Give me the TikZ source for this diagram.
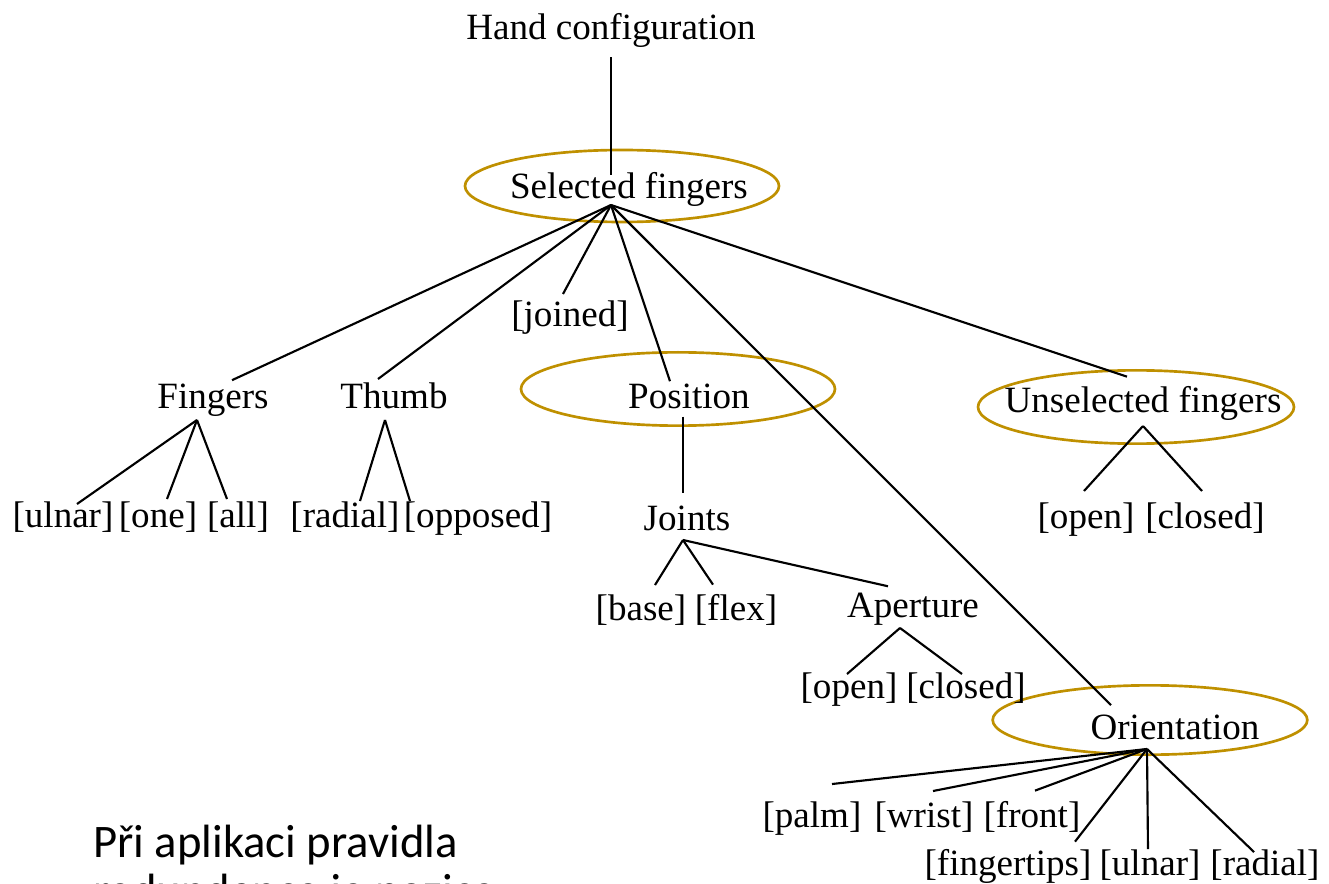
\documentclass[tikz,border=0pt]{standalone}
\usepackage{fontspec}
\setmainfont{Liberation Serif}
\newfontfamily\czfont{Carlito}
\usetikzlibrary{calc}
\definecolor{gold}{RGB}{191,144,0}
\begin{document}
\begin{tikzpicture}[x=0.75pt,y=-0.75pt,
  lbl/.style={font=\fontsize{27.8pt}{32pt}\selectfont, inner sep=0pt, anchor=base},
  cz/.style={font=\czfont\fontsize{35pt}{42pt}\selectfont, inner sep=0pt, anchor=base west},
  edge/.style={line width=1.6pt, black},
  ring/.style={draw=gold, line width=2pt}]
\useasboundingbox (0,0) rectangle (1329,884);
\clip (0,0) rectangle (1329,884);

% highlight ellipses
\draw[ring] (622,186) ellipse [x radius=117.75pt, y radius=27pt];
\draw[ring] (678,389) ellipse [x radius=117.75pt, y radius=27.5pt];
\draw[ring] (1136,407) ellipse [x radius=118.5pt, y radius=27.5pt];
\draw[ring] (1150,720) ellipse [x radius=118pt, y radius=26pt];

% nodes
\node[lbl] (hc) at (611,40) {Hand configuration};
\node[lbl] (sf) at (629,199) {Selected fingers};
\node[lbl] (jn) at (570,327) {[joined]};
\node[lbl] (fi) at (213,408) {Fingers};
\node[lbl] (th) at (394,408) {Thumb};
\node[lbl] (po) at (689,408) {Position};
\node[lbl] (uf) at (1143,412) {Unselected fingers};
\node[lbl] (ul1) at (63,527) {[ulnar]};
\node[lbl] (one) at (158,527) {[one]};
\node[lbl] (all) at (238,527) {[all]};
\node[lbl] (rad1) at (345,527) {[radial]};
\node[lbl] (opp) at (478,527) {[opposed]};
\node[lbl] (jo) at (687,530) {Joints};
\node[lbl] (op1) at (1086,528) {[open]};
\node[lbl] (cl1) at (1205,528) {[closed]};
\node[lbl] (ba) at (641,620) {[base]};
\node[lbl] (fl) at (736,620) {[flex]};
\node[lbl] (ap) at (913,617) {Aperture};
\node[lbl] (op2) at (849,698) {[open]};
\node[lbl] (cl2) at (966,698) {[closed]};
\node[lbl] (or) at (1175,739) {Orientation};
\node[lbl] (pa) at (812,827) {[palm]};
\node[lbl] (wr) at (924,827) {[wrist]};
\node[lbl] (fr) at (1032,827) {[front]};
\node[lbl] (ft) at (1008,875) {[fingertips]};
\node[lbl] (ul2) at (1150,875) {[ulnar]};
\node[lbl] (rad2) at (1265,875) {[radial]};

\node[cz] (cz1) at (93,857) {Při aplikaci pravidla};
\node[cz] (cz2) at (93,906) {redundance je pozice};

% fan points
\coordinate (sfb) at (611,205);
\coordinate (fib) at (197,420);
\coordinate (thb) at (385,420);
\coordinate (job) at (683,540);
\coordinate (apb) at (900,628);
\coordinate (ufb) at (1143,426);
\coordinate (orb) at (1147,749);

% connectors
\draw[edge] ($(hc.south)+(0,9)$) -- ($(sf.north)+(-18,2)$);
\draw[edge] (sfb) -- ($(fi.north)+(19,-3)$);
\draw[edge] (sfb) -- ($(th.north)+(-16,-3)$);
\draw[edge] (sfb) -- ($(jn.north)+(-7,-7)$);
\draw[edge] (sfb) -- ($(po.north)+(-19,-2)$);
\draw[edge] (sfb) -- ($(or.north)+(-64,-9)$);
\draw[edge] (sfb) -- ($(uf.north)+(-16,-9)$);

\draw[edge] (fib) -- ($(ul1.north)+(14,3)$);
\draw[edge] (fib) -- ($(one.north)+(9,-2)$);
\draw[edge] (fib) -- ($(all.north)+(-11,-2)$);
\draw[edge] (thb) -- ($(rad1.north)+(15,0)$);
\draw[edge] (thb) -- ($(opp.north)+(-68,0)$);

\draw[edge] ($(po.south)+(-6,8)$) -- ($(jo.north)+(-4,-12)$);
\draw[edge] (job) -- ($(ba.north)+(14,-9)$);
\draw[edge] (job) -- ($(fl.north)+(-23,-9)$);
\draw[edge] (job) -- ($(ap.north)+(-25,-6)$);
\draw[edge] (apb) -- ($(op2.north)+(-2,2)$);
\draw[edge] (apb) -- ($(cl2.north)+(-4,2)$);

\draw[edge] (ufb) -- ($(op1.north)+(-2,-11)$);
\draw[edge] (ufb) -- ($(cl1.north)+(-3,-11)$);

\draw[edge] (orb) -- ($(pa.north)+(20,-17)$);
\draw[edge] (orb) -- ($(wr.north)+(9,-10)$);
\draw[edge] (orb) -- ($(fr.north)+(3,-10)$);
\draw[edge] (orb) -- ($(ft.north)+(67,-7)$);
\draw[edge] (orb) -- ($(ul2.north)+(-2,0)$);
\draw[edge] (orb) -- ($(rad2.north)+(-11,3)$);
\end{tikzpicture}
\end{document}
